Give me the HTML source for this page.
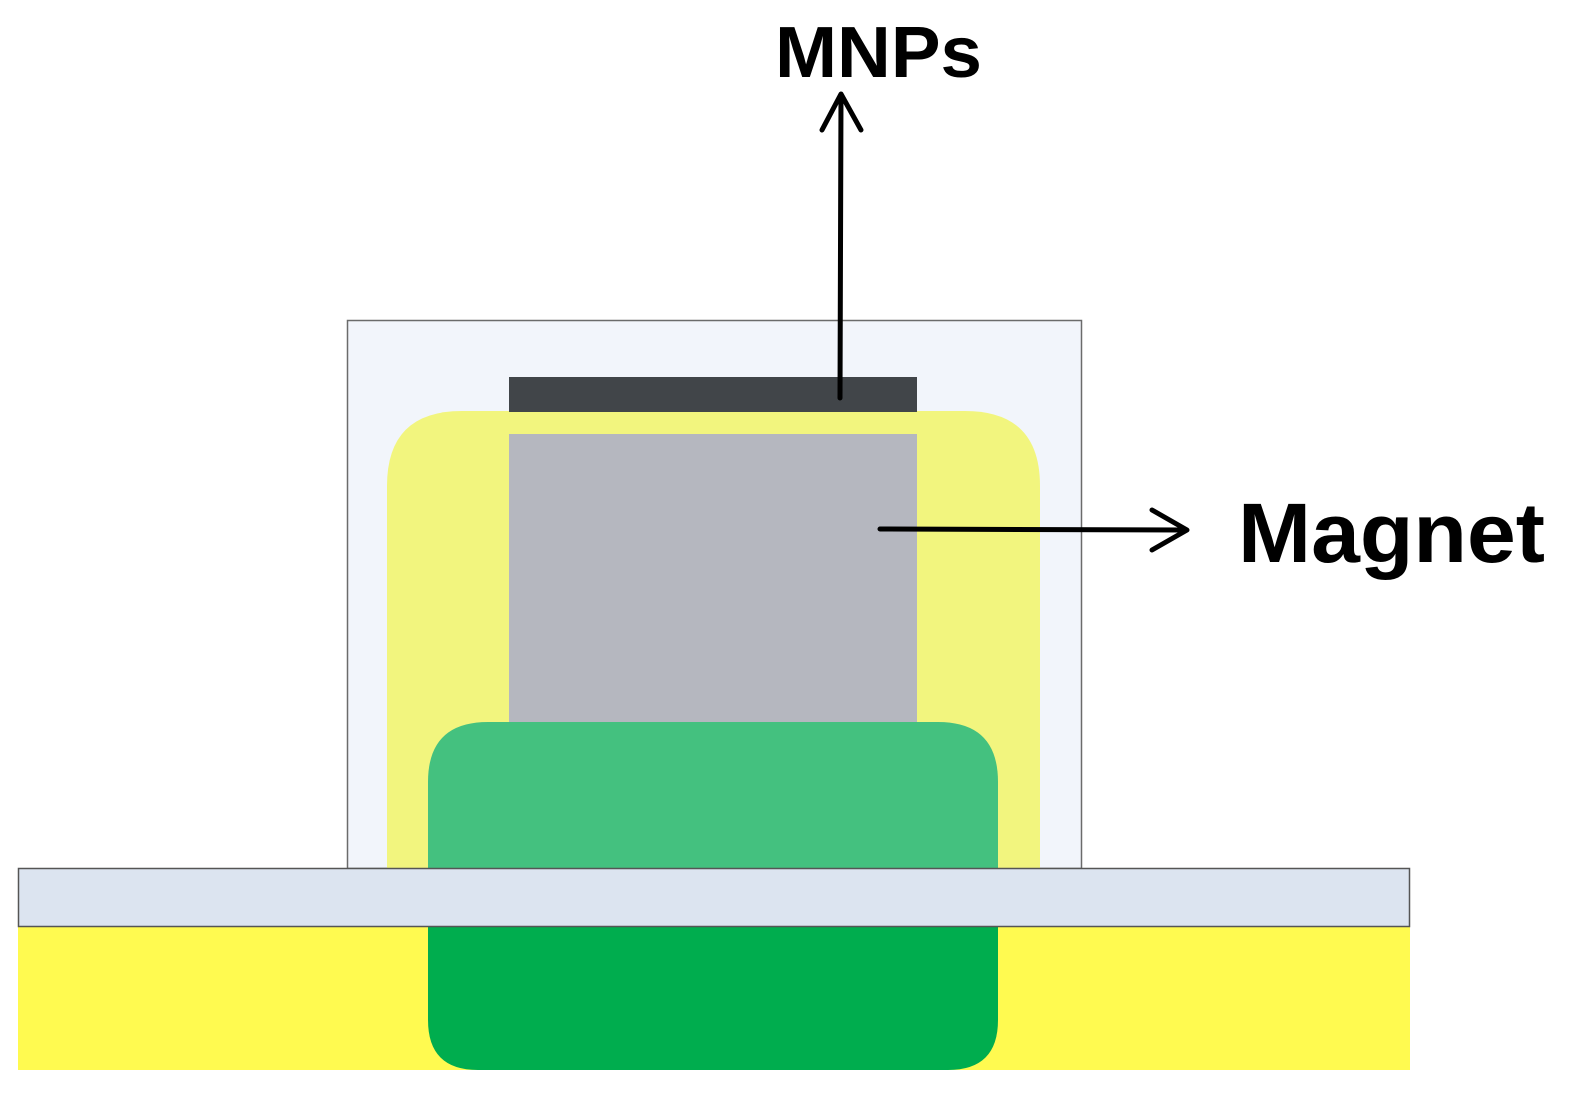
<!DOCTYPE html>
<html><head><meta charset="utf-8"><style>html,body{margin:0;padding:0;background:#fff}svg{display:block}</style></head>
<body>
<svg width="1576" height="1100" viewBox="0 0 1576 1100" xmlns="http://www.w3.org/2000/svg">
<rect x="0" y="0" width="1576" height="1100" fill="#fff"/>
<!-- outer box -->
<rect x="347.5" y="320.5" width="734" height="548" fill="#f2f5fb" stroke="#6b6b6b" stroke-width="1.5"/>
<!-- yellow rounded -->
<path d="M387 868 V486 Q387 411 462 411 H965 Q1040 411 1040 486 V868 Z" fill="#f2f57e"/>
<!-- dark bar -->
<rect x="509" y="377" width="408" height="35" fill="#414549"/>
<!-- gray magnet -->
<rect x="509" y="434" width="408" height="290" fill="#b5b7bf"/>
<!-- light green -->
<path d="M428 868 V782 Q428 722 488 722 H938 Q998 722 998 782 V868 Z" fill="#44c17f"/>
<!-- bottom yellow -->
<rect x="18" y="927" width="1392" height="143" fill="#fffa50"/>
<!-- dark green -->
<path d="M428 927 V1020 Q428 1070 478 1070 H948 Q998 1070 998 1020 V927 Z" fill="#00ad4e"/>
<!-- glass plate -->
<rect x="18.5" y="868.5" width="1391" height="58" fill="#dce4f0" stroke="#555" stroke-width="1.5"/>
<!-- arrows -->
<g stroke="#000" stroke-width="5" fill="none" stroke-linecap="round" stroke-linejoin="round">
<line x1="840" y1="398" x2="841" y2="95"/>
<polyline points="822,130 841,94 861,130"/>
<line x1="880" y1="529" x2="1185" y2="530"/>
<polyline points="1152,510 1187,530 1152,550"/>
</g>
<text x="775" y="77" font-family="Liberation Sans, sans-serif" font-weight="bold" font-size="72" textLength="207" lengthAdjust="spacingAndGlyphs">MNPs</text>
<text x="1238" y="562" font-family="Liberation Sans, sans-serif" font-weight="bold" font-size="84" textLength="307" lengthAdjust="spacingAndGlyphs">Magnet</text>
</svg>
</body></html>
